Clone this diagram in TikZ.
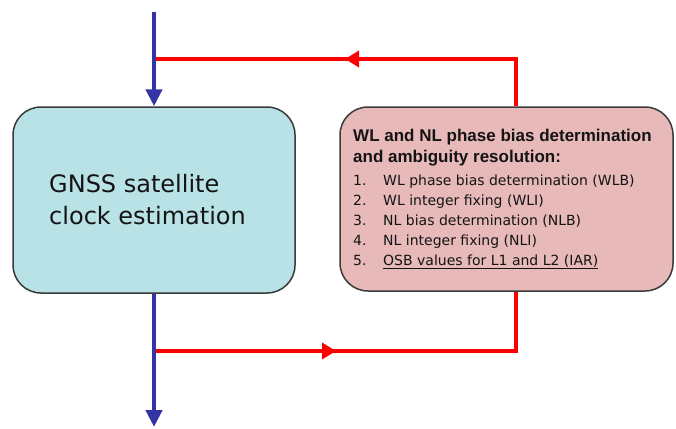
\documentclass[tikz,border=0pt]{standalone}
\usepackage{fontspec}
\setmainfont{DejaVu Sans}
\newfontfamily\libsans{Liberation Sans}
\usetikzlibrary{arrows.meta}
\definecolor{boxcyan}{HTML}{B8E2E6}
\definecolor{boxpink}{HTML}{E8B9B9}
\definecolor{boxedge}{HTML}{3A3A3A}
\definecolor{flowblue}{HTML}{3434A4}
\definecolor{flowred}{HTML}{FF0000}
\definecolor{txt}{HTML}{141414}
\begin{document}
\begin{tikzpicture}[x=1pt,y=-1pt,
  procbox/.style={draw=boxedge, line width=1.5pt, rounded corners=28pt, inner sep=0pt},
  blueline/.style={draw=flowblue, line width=4.5pt},
  redline/.style={draw=flowred, line width=4pt},
  bluetip/.style={-{Triangle[length=17pt,width=16pt]}},
  redtip/.style={-{Triangle[length=14pt,width=16pt]}},
  lbl/.style={anchor=base west, inner sep=0pt, text=txt},
  bigtxt/.style={lbl, font=\fontsize{24}{28}\selectfont},
  headtxt/.style={lbl, font=\libsans\bfseries\fontsize{17}{20}\selectfont},
  itemtxt/.style={lbl, font=\fontsize{14}{17}\selectfont}]
\useasboundingbox (0,0) rectangle (676,428);
% boxes
\node[procbox, fill=boxcyan, minimum width=282pt, minimum height=186pt] (gnss) at (154,200) {};
\node[procbox, fill=boxpink, minimum width=333pt, minimum height=184pt] (wlnl) at (506.5,199) {};
% left text
\node[bigtxt] (g1) at (49,192) {GNSS satellite};
\node[bigtxt] (g2) at (49,224) {clock estimation};
% right text
\node[headtxt] (h1) at (353,141) {WL and NL phase bias determination};
\node[headtxt] (h2) at (353,162) {and ambiguity resolution:};
\node[itemtxt] (n1) at (353,185) {1.};
\node[itemtxt] (t1) at (383,185) {WL phase bias determination (WLB)};
\node[itemtxt] (n2) at (353,205) {2.};
\node[itemtxt] (t2) at (383,205) {WL integer fixing (WLI)};
\node[itemtxt] (n3) at (353,225) {3.};
\node[itemtxt] (t3) at (383,225) {NL bias determination (NLB)};
\node[itemtxt] (n4) at (353,245) {4.};
\node[itemtxt] (t4) at (383,245) {NL integer fixing (NLI)};
\node[itemtxt] (n5) at (353,265) {5.};
\node[itemtxt] (t5) at (383,265) {\underline{OSB values for L1 and L2 (IAR)}};
% coordinates
\coordinate (topin) at (154,12);
\coordinate (botout) at (154,427);
\coordinate (rtop) at (516,59);
\coordinate (rbot) at (516,351);
\coordinate (jtop) at (154,59);
\coordinate (jbot) at (154,351);
\coordinate (atop) at (345,59);
\coordinate (atopstart) at (362,59);
\coordinate (abot) at (336,351);
\coordinate (abotstart) at (319,351);
% red feedback loop
\draw[redline] (wlnl.north -| rtop) -- (rtop) -- (jtop);
\draw[redline, redtip] (atopstart) -- (atop);
\draw[redline] (jbot) -- (rbot) -- (wlnl.south -| rbot);
\draw[redline, redtip] (abotstart) -- (abot);
% blue main flow
\draw[blueline, bluetip] (topin) -- (gnss.north);
\draw[blueline, bluetip] (gnss.south) -- (botout);
\end{tikzpicture}
\end{document}
